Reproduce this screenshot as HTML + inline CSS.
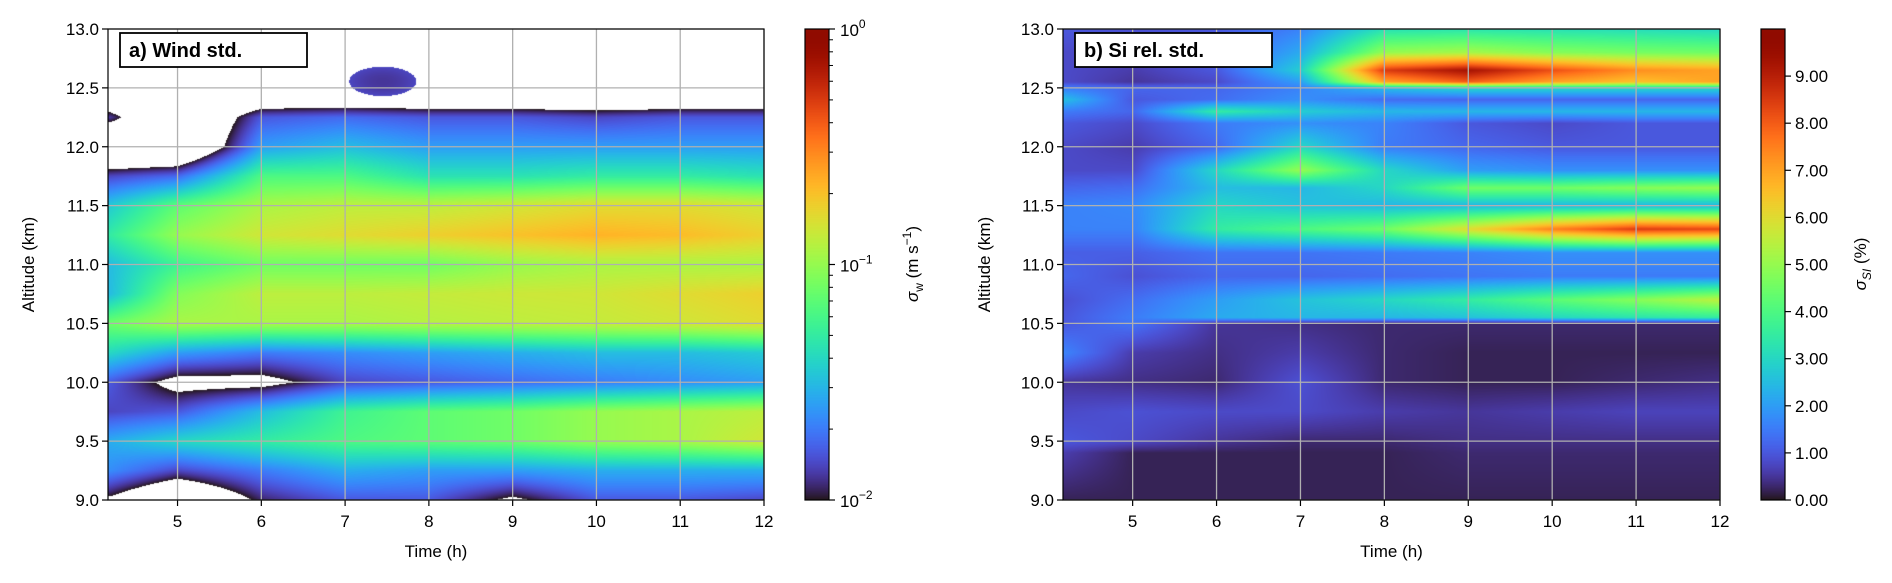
<!DOCTYPE html>
<html><head><meta charset="utf-8"><style>
body{margin:0;background:#fff;width:1892px;height:583px;overflow:hidden;position:relative;font-family:"Liberation Sans","DejaVu Sans",sans-serif}
canvas{position:absolute}
svg{position:absolute;left:0;top:0}
</style></head><body>
<canvas id="ca"></canvas>
<canvas id="cb"></canvas>
<canvas id="cba"></canvas>
<canvas id="cbb"></canvas>
<svg id="ov" width="1892" height="583"></svg>
<script>
// ---- data ----
const timesA=[4.2,5,6,7,8,9,10,11,12];
const altsA=[9.0,9.25,9.5,9.75,10.0,10.25,10.5,10.75,11.0,11.25,11.5,11.75,12.0,12.25,12.5,12.75,13.0];
// log10(sigma_w), values below -2 are masked (white)
const logWind=[
[-2.05,-2.4,-1.95,-1.8,-1.8,-2.05,-1.8,-1.8,-1.85],
[-1.65,-1.85,-1.7,-1.55,-1.6,-1.6,-1.55,-1.55,-1.55],
[-1.55,-1.4,-1.3,-1.2,-1.15,-1.1,-1.0,-0.95,-0.85],
[-1.85,-1.8,-1.5,-1.25,-1.15,-1.1,-1.0,-0.95,-0.9],
[-1.8,-2.1,-2.1,-1.85,-1.8,-1.75,-1.7,-1.65,-1.6],
[-1.4,-1.6,-1.7,-1.65,-1.6,-1.55,-1.5,-1.5,-1.45],
[-1.1,-0.95,-0.95,-0.95,-0.92,-0.9,-0.88,-0.85,-0.8],
[-1.5,-1.05,-0.9,-0.9,-0.88,-0.86,-0.85,-0.8,-0.75],
[-1.5,-1.25,-1.1,-1.1,-1.1,-1.0,-0.95,-0.95,-0.95],
[-1.3,-1.0,-0.85,-0.8,-0.75,-0.7,-0.65,-0.68,-0.75],
[-1.45,-1.15,-0.95,-0.9,-0.9,-0.85,-0.8,-0.8,-0.85],
[-1.85,-1.75,-1.2,-1.2,-1.35,-1.35,-1.3,-1.3,-1.35],
[-2.5,-2.5,-1.6,-1.5,-1.6,-1.6,-1.6,-1.6,-1.6],
[-1.9,-2.5,-1.8,-1.75,-1.8,-1.8,-1.85,-1.8,-1.8],
[-2.5,-2.5,-2.5,-2.5,-2.5,-2.5,-2.5,-2.5,-2.5],
[-2.5,-2.5,-2.5,-2.5,-2.5,-2.5,-2.5,-2.5,-2.5],
[-2.5,-2.5,-2.5,-2.5,-2.5,-2.5,-2.5,-2.5,-2.5]];
// detached patch of valid data near 12.5 km: [t0,t1,alt0,alt1,log value]
const windPatch=[7.05,7.85,12.43,12.68,-1.85];
const timesB=[4.2,5,6,7,8,9,10,11,12];
const altsB=[9.0,9.4,9.5,9.75,10.0,10.25,10.5,10.55,10.7,10.9,11.1,11.3,11.5,11.65,11.8,12.0,12.2,12.3,12.4,12.5,12.55,12.65,12.8,13.0];
const siStd=[
[0.2,0.2,0.2,0.2,0.2,0.2,0.2,0.2,0.2],
[0.6,0.2,0.2,0.2,0.2,0.3,0.3,0.3,0.3],
[1.0,0.8,0.5,0.3,0.3,0.4,0.4,0.4,0.4],
[0.8,0.9,0.8,0.8,0.6,0.5,0.6,0.7,0.7],
[0.5,0.4,0.3,0.9,0.3,0.2,0.2,0.3,0.4],
[1.6,0.6,0.4,0.6,0.3,0.2,0.2,0.2,0.2],
[1.0,1.4,0.5,0.4,0.3,0.3,0.3,0.3,0.3],
[1.0,1.5,2.2,2.4,2.4,2.6,3.0,3.3,3.5],
[0.9,1.3,2.0,2.6,3.0,3.5,4.2,4.8,5.5],
[1.2,0.9,1.2,1.2,1.3,1.4,1.5,1.5,1.5],
[1.1,1.1,1.4,1.4,1.5,1.6,1.8,1.8,1.8],
[1.6,1.6,3.5,4.0,4.5,6.0,7.5,8.5,8.3],
[1.6,1.7,3.0,2.6,2.4,2.4,2.4,2.4,2.4],
[1.2,1.3,2.5,2.4,3.0,4.5,4.5,4.8,5.0],
[0.8,0.8,3.0,5.0,3.0,2.0,1.8,1.8,1.8],
[0.8,0.6,1.2,3.0,1.5,1.2,1.0,1.0,1.0],
[1.0,0.8,1.5,1.8,1.6,1.0,0.8,1.0,1.0],
[1.5,1.2,3.5,2.8,2.4,2.4,2.4,2.4,2.4],
[2.5,1.0,1.3,1.8,1.3,1.2,1.2,1.2,1.2],
[1.5,1.2,1.2,1.6,2.5,3.0,3.0,3.0,3.0],
[0.8,0.5,0.8,2.0,7.0,8.0,7.0,6.5,7.0],
[0.8,0.6,1.0,2.8,8.5,9.3,8.2,7.3,7.0],
[0.8,0.7,1.0,2.2,5.0,5.2,4.8,4.6,4.5],
[1.0,0.9,1.0,1.6,3.2,3.3,3.2,3.1,3.0]];
const xTicks=[5,6,7,8,9,10,11,12];
const yTicks=[9.0,9.5,10.0,10.5,11.0,11.5,12.0,12.5,13.0];
const cbTicksB=[0,1,2,3,4,5,6,7,8,9];

// ---- layout ----
const PA={l:108,r:764,t:29,b:500}, PB={l:1063,r:1720,t:29,b:500};
const T0=4.17,T1=12,Y0=9,Y1=13;
function sx(P,t){return P.l+(t-T0)/(T1-T0)*(P.r-P.l);}
function sy(P,a){return P.b-(a-Y0)/(Y1-Y0)*(P.b-P.t);}
function turbo(x){x=Math.max(0,Math.min(1,x));
 const r=0.13572138+x*(4.61539260+x*(-42.66032258+x*(132.13108234+x*(-152.94239396+x*59.28637943))));
 const g=0.09140261+x*(2.19418839+x*(4.84296658+x*(-14.18503333+x*(4.27729857+x*2.82956604))));
 const b=0.10667330+x*(12.64194608+x*(-60.58204836+x*(110.36276771+x*(-89.90310912+x*27.34824973))));
 return [r*255,g*255,b*255].map(v=>Math.max(0,Math.min(255,v)));}
function idx(arr,v){let i=0;while(i<arr.length-2&&v>arr[i+1])i++;let f=(v-arr[i])/(arr[i+1]-arr[i]);return [i,Math.max(0,Math.min(1,f))];}
function interp(times,alts,Z,t,a){const [i,fx]=idx(times,t),[j,fy]=idx(alts,a);
 const z00=Z[j][i],z01=Z[j][i+1],z10=Z[j+1][i],z11=Z[j+1][i+1];
 return (z00*(1-fx)+z01*fx)*(1-fy)+(z10*(1-fx)+z11*fx)*fy;}
function heat(id,P,times,alts,Z,norm,mask,patch){const c=document.getElementById(id);
 const w=P.r-P.l,h=P.b-P.t;c.width=w;c.height=h;c.style.left=P.l+'px';c.style.top=P.t+'px';
 const ctx=c.getContext('2d'),img=ctx.createImageData(w,h);
 for(let y=0;y<h;y++){const a=Y1-(y+0.5)/h*(Y1-Y0);
  for(let x=0;x<w;x++){const t=T0+(x+0.5)/w*(T1-T0);let v=interp(times,alts,Z,t,a);const k=(y*w+x)*4;
   if(patch){const cx=(patch[0]+patch[1])/2,cy=(patch[2]+patch[3])/2,rx=(patch[1]-patch[0])/2,ry=(patch[3]-patch[2])/2;
     const d=((t-cx)/rx)**2+((a-cy)/ry)**2; if(d<1)v=patch[4]-(1-d)*0.05;}
   if(mask!==null&&v<mask){img.data[k]=img.data[k+1]=img.data[k+2]=255;}
   else{const c3=turbo(norm(v));img.data[k]=c3[0];img.data[k+1]=c3[1];img.data[k+2]=c3[2];}
   img.data[k+3]=255;}}
 ctx.putImageData(img,0,0);}
heat('ca',PA,timesA,altsA,logWind,v=>(v+2)/2,-2,windPatch);
heat('cb',PB,timesB,altsB,siStd,v=>v/10,null,null);
function cbar(id,l,r){const c=document.getElementById(id);const w=r-l,h=471;c.width=w;c.height=h;c.style.left=l+'px';c.style.top='29px';
 const ctx=c.getContext('2d');for(let y=0;y<h;y++){const col=turbo(1-(y+0.5)/h);ctx.fillStyle=`rgb(${col[0]|0},${col[1]|0},${col[2]|0})`;ctx.fillRect(0,y,w,1);}}
cbar('cba',805,829);cbar('cbb',1761,1785);

// ---- overlay ----
const NS='http://www.w3.org/2000/svg',ov=document.getElementById('ov');
function el(tag,attrs,txt){const e=document.createElementNS(NS,tag);for(const k in attrs)e.setAttribute(k,attrs[k]);if(txt!==undefined)e.textContent=txt;ov.appendChild(e);return e;}
function axes(P,tag,title,boxW,ylabX){
 for(const t of xTicks){const x=sx(P,t);
  const g=el('line',{x1:x,x2:x,y1:P.t,y2:P.b,stroke:'#b0b0b0','stroke-width':1.3});
  
  const tk=el('line',{x1:x,x2:x,y1:P.b,y2:P.b+6,stroke:'#000','stroke-width':1.2});
  
  const lb=el('text',{x:x,y:P.b+27,'text-anchor':'middle','font-size':17},String(t));
  }
 for(const a of yTicks){const y=sy(P,a);
  const g=el('line',{x1:P.l,x2:P.r,y1:y,y2:y,stroke:'#b0b0b0','stroke-width':1.3});
  
  const tk=el('line',{x1:P.l-6,x2:P.l,y1:y,y2:y,stroke:'#000','stroke-width':1.2});
  
  const lb=el('text',{x:P.l-9,y:y+6,'text-anchor':'end','font-size':17},a.toFixed(1));
  }
 const fr=el('rect',{x:P.l,y:P.t,width:P.r-P.l,height:P.b-P.t,fill:'none',stroke:'#000','stroke-width':1.2});
 
 const xl=el('text',{x:(P.l+P.r)/2,y:557,'text-anchor':'middle','font-size':17},'Time (h)');
 
 const yl=el('text',{x:0,y:0,'text-anchor':'middle','font-size':17,transform:`translate(${ylabX},${(P.t+P.b)/2}) rotate(-90)`},'Altitude (km)');
 
 const bx=el('rect',{x:P.l+12,y:P.t+4,width:boxW,height:34,fill:'#fff',stroke:'#000','stroke-width':1.8});
 
 const bt=el('text',{x:P.l+21,y:P.t+28,'font-size':20,'font-weight':'bold'},title);
 }
axes(PA,'wind','a) Wind std.',187,34);
axes(PB,'si','b) Si rel. std.',197,990);
// colorbar a (log)
el('rect',{x:805,y:29,width:24,height:471,fill:'none',stroke:'#000','stroke-width':1.2});
for(let d=-2;d<=0;d++){const y=500-(d+2)/2*471;el('line',{x1:829,x2:835,y1:y,y2:y,stroke:'#000','stroke-width':1.2});
 const t=el('text',{x:840,y:y+7,'font-size':17},'10');
 const s=document.createElementNS(NS,'tspan');s.setAttribute('dy',-8);s.setAttribute('font-size',12);s.textContent=d===0?'0':'−'+(-d);t.appendChild(s);
 
 if(d<0)for(let m=2;m<=9;m++){const ym=500-((d+Math.log10(m))+2)/2*471;el('line',{x1:829,x2:833,y1:ym,y2:ym,stroke:'#000','stroke-width':1});}}
const la=el('text',{x:0,y:0,'text-anchor':'middle','font-size':17,transform:'translate(918,264) rotate(-90)'});
la.innerHTML='<tspan font-style="italic">σ</tspan><tspan font-size="12" dy="5">w</tspan><tspan dy="-5"> (m s</tspan><tspan font-size="12" dy="-7">−1</tspan><tspan dy="7">)</tspan>';

// colorbar b
el('rect',{x:1761,y:29,width:24,height:471,fill:'none',stroke:'#000','stroke-width':1.2});
for(const v of cbTicksB){const y=500-v/10*471;el('line',{x1:1785,x2:1791,y1:y,y2:y,stroke:'#000','stroke-width':1.2});
 const t=el('text',{x:1795,y:y+6,'font-size':17},v.toFixed(2));}
const lb2=el('text',{x:0,y:0,'text-anchor':'middle','font-size':17,transform:'translate(1866,264) rotate(-90)'});
lb2.innerHTML='<tspan font-style="italic">σ</tspan><tspan font-size="12" dy="5" font-style="italic">SI</tspan><tspan dy="-5"> (%)</tspan>';

</script>
</body></html>
